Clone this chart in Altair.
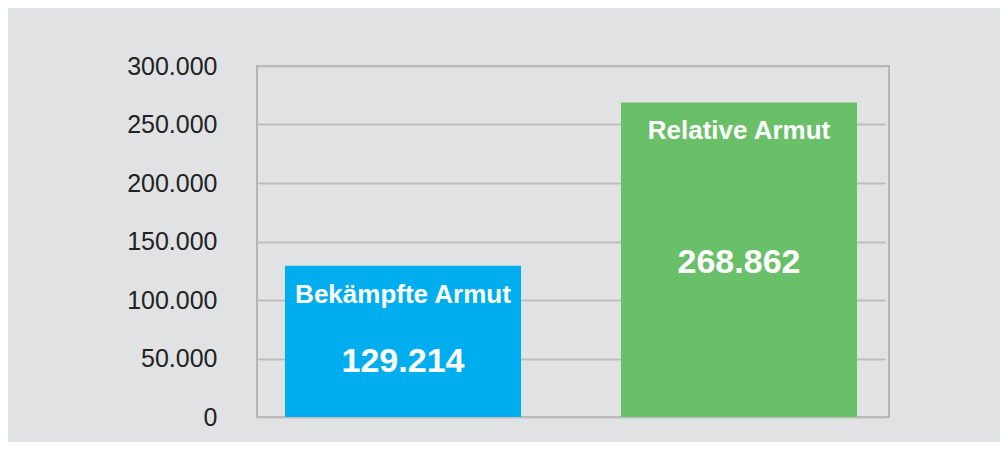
import altair as alt
import pandas as pd

categories = ["Bekämpfte Armut", "Relative Armut"]
values = [129214, 268862]
value_labels = ["129.214", "268.862"]
colors = ["#00AEEF", "#6ABF69"]
y_ticks = [0, 50000, 100000, 150000, 200000, 250000, 300000]

df = pd.DataFrame({"cat": categories, "value": values, "vlabel": value_labels})

x = alt.X("cat:N", sort=categories, axis=None,
          scale=alt.Scale(paddingInner=0.2976, paddingOuter=0.0833, range=[0, 628]))
y = alt.Y("value:Q",
          scale=alt.Scale(domain=[0, 300000], nice=False),
          axis=alt.Axis(values=y_ticks, title=None, domain=False, ticks=False, tickSize=0,
                        labelPadding=40, labelFontSize=25, labelColor="#222222",
                        labelFont="Liberation Sans",
                        labelExpr="datum.value == 0 ? '0\u00a0\u00a0' : replace(format(datum.value, ','), ',', '.')",
                        gridColor="#bdbdbd", gridWidth=2))

base = alt.Chart(df)

bars = base.mark_bar().encode(
    x=x, y=y,
    color=alt.Color("cat:N", scale=alt.Scale(domain=categories, range=colors), legend=None),
)

names = base.mark_text(color="white", fontWeight="bold", fontSize=26,
                       font="Liberation Sans", baseline="middle", dy=29).encode(
    x=alt.X("cat:N", sort=categories), y="value:Q", text="cat:N")

nums = base.transform_calculate(
    ly="min(datum.value / 2, datum.value - 80000)"
).mark_text(color="white", fontWeight="bold", fontSize=34,
            font="Liberation Sans", baseline="middle", dy=3).encode(
    x=alt.X("cat:N", sort=categories), y="ly:Q", text="vlabel:N")

chart = alt.layer(bars, names, nums).properties(
    width=632, height=351,
    autosize=alt.AutoSizeParams(type="none"),
    padding={"left": 249, "top": 58, "right": 111, "bottom": 25},
    background="#e1e2e3",
).configure_view(stroke="#b5b5b5", strokeWidth=2)

chart.save("out.html", embed_options={"renderer": "svg", "actions": False})
